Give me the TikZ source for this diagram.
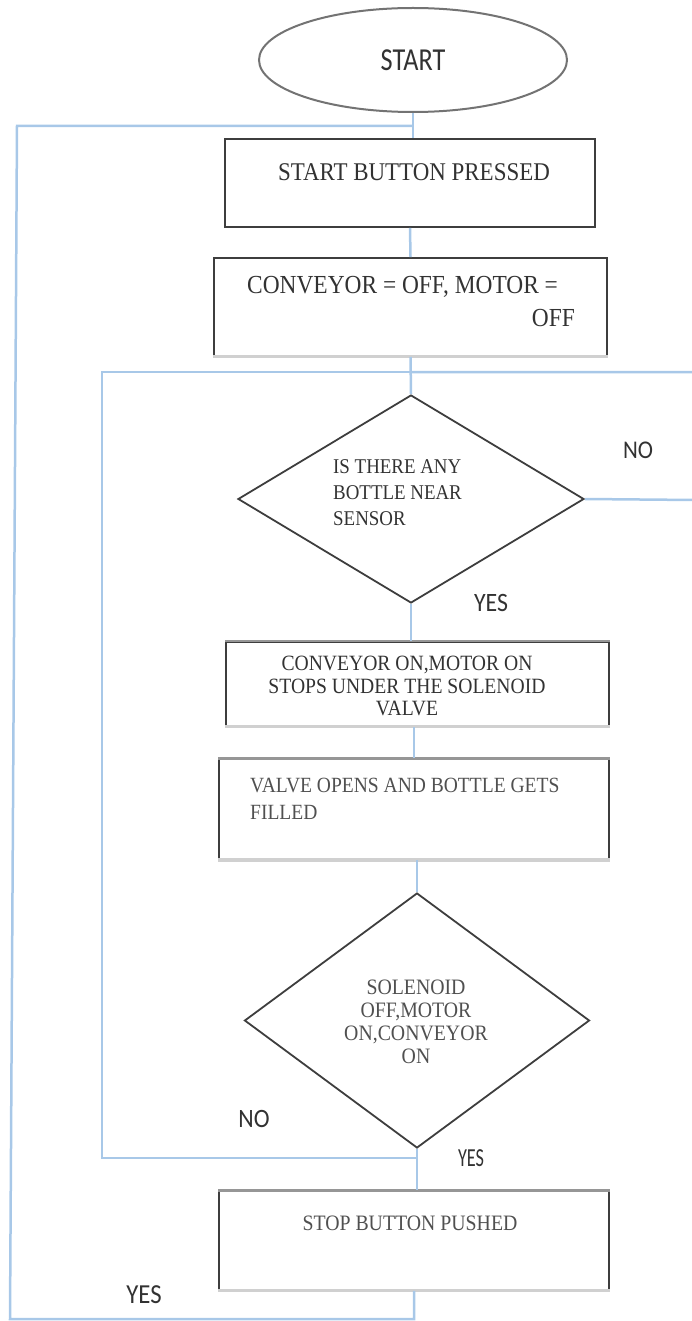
\documentclass[tikz,border=0pt]{standalone}
\usepackage{fontspec}
\setmainfont{Liberation Serif}[FakeStretch=0.9]
\newfontfamily\labfont{Carlito}[FakeStretch=0.9]
\newfontfamily\startfont{Carlito}[FakeStretch=0.82]
\usetikzlibrary{shapes.geometric}
\definecolor{connblue}{RGB}{168,200,232}
\definecolor{darkedge}{RGB}{62,62,62}
\definecolor{midedge}{RGB}{150,150,150}
\definecolor{lightedge}{RGB}{208,208,208}
\definecolor{ellipseedge}{RGB}{115,115,115}
\definecolor{txtdark}{RGB}{50,50,50}
\definecolor{txtgray}{RGB}{80,80,80}
\begin{document}
\begin{tikzpicture}[x=1pt,y=-1pt,
  connline/.style={draw=connblue, line width=2.5pt},
  flowbox/.style={draw=darkedge, line width=1.8pt, rectangle, inner sep=0pt},
  flowdia/.style={draw=darkedge, line width=1.8pt, diamond, inner sep=0pt, aspect=1},
  boxtext/.style={text=txtdark, inner sep=0pt},
  lab/.style={text=txtdark, inner sep=0pt, font=\labfont\fontsize{#1}{#1}\selectfont},
  lightbottom/.style={draw=lightedge, line width=#1},
  midtop/.style={draw=midedge, line width=#1}]
\useasboundingbox (0,0) rectangle (691,1321);

% shapes
\node[draw=ellipseedge, line width=2pt, ellipse, minimum width=308pt, minimum height=104pt, inner sep=0pt,
      text=txtdark, font=\startfont\fontsize{32}{32}\selectfont] (start) at (413,60) {START};
\node[flowbox, minimum width=370pt, minimum height=88pt] (box1) at (410,183) {};
\node[flowbox, minimum width=393pt, minimum height=98pt] (box2) at (410.5,307) {};
\node[flowdia, minimum width=346pt, minimum height=208pt] (dia1) at (411,499) {};
\node[flowbox, minimum width=383pt, minimum height=84pt] (box3) at (417.5,684) {};
\node[flowbox, minimum width=390pt, minimum height=100pt] (box4) at (414,809) {};
\node[flowdia, minimum width=345pt, minimum height=255pt] (dia2) at (417,1020.5) {};
\node[flowbox, minimum width=390pt, minimum height=99pt] (box5) at (414,1240.5) {};

% edge shading
\draw[lightbottom=3pt] (box2.south west) -- (box2.south east);
\draw[midtop=2pt] (box3.north west) -- (box3.north east);
\draw[lightbottom=3pt] (box3.south west) -- (box3.south east);
\draw[midtop=3pt] (box4.north west) -- (box4.north east);
\draw[lightbottom=4pt] (box4.south west) -- (box4.south east);
\draw[midtop=3pt] (box5.north west) -- (box5.north east);
\draw[lightbottom=3pt] (box5.south west) -- (box5.south east);

% texts
\node[boxtext, font=\fontsize{25.5}{26}\selectfont] (t1) at (414,172) {START BUTTON PRESSED};
\node[boxtext, anchor=west, font=\fontsize{26}{26}\selectfont] (t2a) at (247,287) {CONVEYOR = OFF, MOTOR =};
\node[boxtext, anchor=east, font=\fontsize{26}{26}\selectfont] (t2b) at (575,318) {OFF};
\node[boxtext, anchor=west, align=left, font=\fontsize{21}{26}\selectfont] (t3) at (333,493) {IS THERE ANY\\BOTTLE NEAR\\SENSOR};
\node[boxtext, align=center, font=\fontsize{21.8}{22.5}\selectfont] (t4) at (407,686) {CONVEYOR ON,MOTOR ON\\STOPS UNDER THE SOLENOID\\VALVE};
\node[boxtext, text=txtgray, anchor=west, align=left, font=\fontsize{21.7}{27}\selectfont] (t5) at (250,799) {VALVE OPENS AND BOTTLE GETS\\FILLED};
\node[boxtext, text=txtgray, align=center, font=\fontsize{22}{23}\selectfont] (t6) at (416,1022) {SOLENOID\\OFF,MOTOR\\ON,CONVEYOR\\ON};
\node[boxtext, text=txtgray, font=\fontsize{22}{23}\selectfont] (t7) at (410,1223) {STOP BUTTON PUSHED};

% labels
\node[lab=25.5] (no1) at (638,450) {NO};
\node[lab=26.5] (yes1) at (491,603) {YES};
\node[lab=26.5] (no2) at (254,1119) {NO};
\node[lab=26] (yes2) at (471,1158) {\scalebox{0.78}[1]{YES}};
\node[lab=27.5] (yes3) at (144,1295) {YES};

% junctions
\coordinate (j1) at (412,126);
\coordinate (j2) at (410,372);
\coordinate (j3) at (417,1158);
\coordinate (rightA) at (695,500);
\coordinate (rightB) at (695,372);
\coordinate (innerTL) at (102,372);
\coordinate (innerBL) at (102,1158);
\coordinate (outerTL) at (17,126);
\coordinate (outerBL) at (10,1319);
\coordinate (outerBR) at (414,1319);

% connectors
\draw[connline] (start.south) -- (start.south |- box1.north);
\draw[connline] (box1.south) -- (box2.north);
\draw[connline] (box2.south) -- (dia1.north);
\draw[connline] (dia1.south) -- (dia1.south |- box3.north);
\draw[connline] (box4.north |- box3.south) -- (box4.north);
\draw[connline] (dia2.north |- box4.south) -- (dia2.north);
\draw[connline] (dia2.south) -- (dia2.south |- box5.north);
\draw[connline] (dia1.east) -- (rightA) -- (rightB) -- (j2);
\draw[connline] (j3) -- (innerBL) -- (innerTL) -- (j2);
\draw[connline] (box5.south) -- (outerBR) -- (outerBL) -- (outerTL) -- (j1);
\end{tikzpicture}
\end{document}
